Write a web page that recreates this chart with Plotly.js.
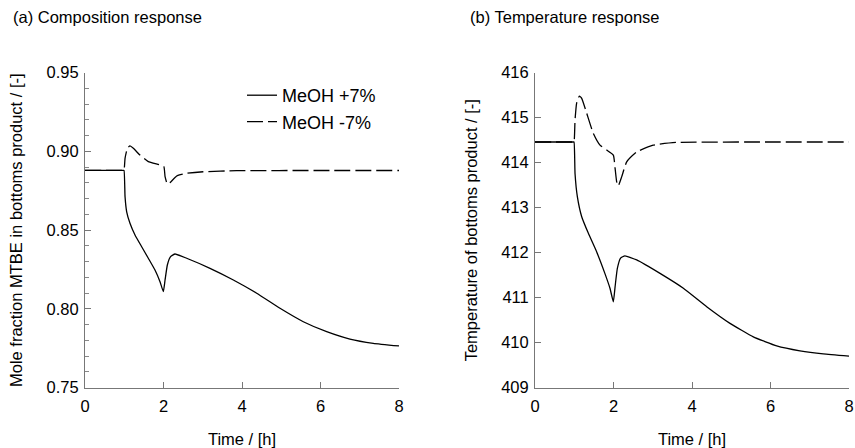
<!DOCTYPE html>
<html>
<head>
<meta charset="utf-8">
<script src="https://cdn.plot.ly/plotly-3.0.1.min.js"></script>
<style>html,body{margin:0;padding:0;background:#fff;}#chart{width:855px;height:448px;}</style>
</head>
<body>
<div id="chart"></div>
<script>
// Panel (a): composition response
var timePlusA = [0, 0.5, 0.97, 0.994, 1.02, 1.062, 1.146, 1.274, 1.444, 1.613, 1.783, 1.911, 1.996, 2.04, 2.098, 2.18, 2.293, 2.59, 3.185, 3.78, 4.374, 4.968, 5.562, 6.157, 6.75, 7.345, 8.0];
var molePlus = [0.8880, 0.8880, 0.8880, 0.8880, 0.8713, 0.8617, 0.8544, 0.847, 0.8395, 0.8322, 0.8247, 0.8173, 0.811, 0.8184, 0.8279, 0.8332, 0.8349, 0.8322, 0.8258, 0.8184, 0.810, 0.8004, 0.7919, 0.7856, 0.7809, 0.7782, 0.7765];
var timeMinusA = [0, 0.5, 0.97, 0.994, 1.02, 1.08, 1.146, 1.232, 1.40, 1.613, 1.91, 2.01, 2.04, 2.098, 2.166, 2.336, 2.59, 3.01, 3.86, 6.0, 8.0];
var moleMinus = [0.8880, 0.8880, 0.8880, 0.8880, 0.8956, 0.902, 0.9035, 0.902, 0.8977, 0.8935, 0.8914, 0.8903, 0.884, 0.8793, 0.8802, 0.8844, 0.8861, 0.8871, 0.8878, 0.8879, 0.8879];

// Panel (b): temperature response
var timePlusB = [0, 0.5, 0.97, 0.994, 1.02, 1.08, 1.19, 1.36, 1.57, 1.78, 1.91, 1.996, 2.04, 2.098, 2.18, 2.29, 2.59, 3.185, 3.78, 4.374, 4.968, 5.562, 6.157, 6.75, 7.345, 8.0];
var tempPlus = [414.46, 414.46, 414.46, 414.46, 413.76, 413.24, 412.8, 412.43, 412.02, 411.54, 411.21, 410.91, 411.24, 411.65, 411.88, 411.93, 411.84, 411.54, 411.21, 410.8, 410.43, 410.13, 409.93, 409.82, 409.75, 409.70];
var timeMinusB = [0, 0.5, 0.97, 0.994, 1.02, 1.06, 1.13, 1.19, 1.317, 1.486, 1.656, 1.826, 1.996, 2.04, 2.08, 2.12, 2.21, 2.336, 2.59, 3.01, 3.6, 6.0, 8.0];
var tempMinus = [414.46, 414.46, 414.46, 414.46, 414.95, 415.32, 415.48, 415.43, 415.1, 414.65, 414.39, 414.28, 414.17, 413.88, 413.58, 413.48, 413.69, 414.02, 414.24, 414.39, 414.45, 414.46, 414.46];

var xTicks = [0, 2, 4, 6, 8];
var labelPlus = 'MeOH +7%';
var labelMinus = 'MeOH -7%';

var FONT = 'Liberation Sans, Arial, sans-serif';
var lineSolid = {color: '#000', width: 1.3, dash: 'solid', shape: 'spline', smoothing: 0.4};
var lineDash = {color: '#000', width: 1.3, dash: '16px,5px', shape: 'spline', smoothing: 0.4};

var traces = [
  {x: timePlusA, y: molePlus, mode: 'lines', name: labelPlus, line: lineSolid, xaxis: 'x', yaxis: 'y', showlegend: true},
  {x: timeMinusA, y: moleMinus, mode: 'lines', name: labelMinus, line: lineDash, xaxis: 'x', yaxis: 'y', showlegend: true},
  {x: timePlusB, y: tempPlus, mode: 'lines', name: labelPlus, line: lineSolid, xaxis: 'x2', yaxis: 'y2', showlegend: false},
  {x: timeMinusB, y: tempMinus, mode: 'lines', name: labelMinus, line: lineDash, xaxis: 'x2', yaxis: 'y2', showlegend: false}
];

var TICKSIZE = 16.5;

function xax(domain, anchor) {
  return {
    domain: domain, anchor: anchor, range: [0, 8], tickvals: xTicks,
    showgrid: false, zeroline: false, showline: true, linecolor: '#777', linewidth: 1,
    ticks: 'inside', ticklen: 6, tickcolor: '#777', tickwidth: 1, mirror: false,
    tickfont: {family: FONT, size: TICKSIZE, color: '#000'},
    ticklabelstandoff: 3,
    title: {text: 'Time / [h]', font: {family: FONT, size: 16.5, color: '#000'}, standoff: 19}
  };
}

var layout = {
  width: 855, height: 448,
  margin: {l: 0, r: 0, t: 0, b: 0},
  paper_bgcolor: '#fff', plot_bgcolor: '#fff',
  font: {family: FONT, color: '#000'},
  xaxis: xax([85/855, 399/855], 'y'),
  xaxis2: xax([535/855, 849/855], 'y2'),
  yaxis: {
    domain: [1 - 387.7/448, 1 - 72.7/448], anchor: 'x', range: [0.75, 0.95],
    tickvals: [0.75, 0.80, 0.85, 0.90, 0.95], ticktext: ['0.75', '0.80', '0.85', '0.90', '0.95'],
    minor: {dtick: 0.01, ticks: 'inside', ticklen: 4, tickcolor: '#888', showgrid: false},
    showgrid: false, zeroline: false, showline: true, linecolor: '#777', linewidth: 1,
    ticks: 'inside', ticklen: 6, tickcolor: '#777',
    tickfont: {family: FONT, size: TICKSIZE, color: '#000'},
    ticklabelstandoff: 2,
    title: {text: 'Mole fraction MTBE in bottoms product / [-]', font: {family: FONT, size: 16.5, color: '#000'}, standoff: 19}
  },
  yaxis2: {
    domain: [1 - 387.7/448, 1 - 72.7/448], anchor: 'x2', range: [409, 416],
    tickvals: [409, 410, 411, 412, 413, 414, 415, 416],
    showgrid: false, zeroline: false, showline: true, linecolor: '#777', linewidth: 1,
    ticks: 'inside', ticklen: 6, tickcolor: '#777',
    tickfont: {family: FONT, size: TICKSIZE, color: '#000'},
    ticklabelstandoff: 2,
    title: {text: 'Temperature of bottoms product / [-]', font: {family: FONT, size: 16.5, color: '#000'}, standoff: 19}
  },
  showlegend: true,
  legend: {
    x: 242/855, y: 1 - 77/448, xanchor: 'left', yanchor: 'top',
    bgcolor: 'rgba(0,0,0,0)', borderwidth: 0,
    font: {family: FONT, size: 18, color: '#000'},
    tracegroupgap: 0, itemwidth: 30
  },
  annotations: [
    {text: '(a) Composition response', xref: 'paper', yref: 'paper', x: 11/855, y: 1 - 17/448, xanchor: 'left', yanchor: 'middle', showarrow: false, font: {family: FONT, size: 16.5, color: '#000'}},
    {text: '(b) Temperature response', xref: 'paper', yref: 'paper', x: 468/855, y: 1 - 17/448, xanchor: 'left', yanchor: 'middle', showarrow: false, font: {family: FONT, size: 16.5, color: '#000'}}
  ]
};

Plotly.newPlot('chart', traces, layout, {displayModeBar: false, staticPlot: true});
</script>
</body>
</html>
